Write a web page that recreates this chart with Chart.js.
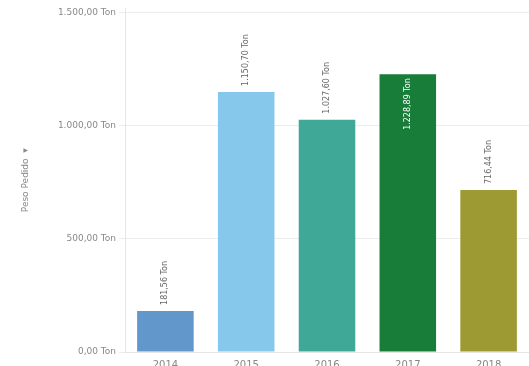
<!DOCTYPE html>
<html>
<head>
<meta charset="utf-8">
<script src="https://cdn.jsdelivr.net/npm/chart.js@4.4.0/dist/chart.umd.min.js"></script>
<style>
  html, body { margin: 0; padding: 0; background: #fff; }
  #wrap { width: 529px; height: 366px; }
</style>
</head>
<body>
<div id="wrap"><canvas id="chart"></canvas></div>
<script>
// data
const years = ['2014', '2015', '2016', '2017', '2018'];
const pesoTon = [181.56, 1150.70, 1027.60, 1228.89, 716.44];
const barColors = ['#6197cb', '#86c8ec', '#40a897', '#177d39', '#9d9a33'];
const yTicks = [0, 500, 1000, 1500];

function fmtTon(v) {
    let parts = v.toFixed(2).split('.');
    let int = parts[0].replace(/\B(?=(\d{3})+(?!\d))/g, '.');
    return int + ',' + parts[1] + ' Ton';
}

// vertical value labels, inside the bar for the tallest one
const barLabels = {
    id: 'barLabels',
    afterDatasetsDraw(chart) {
        let ctx = chart.ctx;
        let meta = chart.getDatasetMeta(0);
        let maxVal = Math.max(...pesoTon);
        ctx.save();
        ctx.font = '8px "DejaVu Sans"';
        ctx.textBaseline = 'middle';
        meta.data.forEach((bar, i) => {
            let txt = fmtTon(pesoTon[i]);
            ctx.save();
            ctx.translate(bar.x, bar.y);
            ctx.rotate(-Math.PI / 2);
            if (pesoTon[i] === maxVal) {
                ctx.fillStyle = '#ffffff';
                ctx.textAlign = 'right';
                ctx.fillText(txt, -4, 0);
            } else {
                ctx.fillStyle = '#666666';
                ctx.textAlign = 'left';
                ctx.fillText(txt, 6, 0);
            }
            ctx.restore();
        });
        ctx.restore();
    }
};

const data = {
    labels: years,
    datasets: [{
        label: 'Peso Pedido',
        data: pesoTon,
        backgroundColor: barColors,
        borderWidth: 0,
        barPercentage: 0.7,
        categoryPercentage: 1.0
    }]
};

const config = {
    type: 'bar',
    data: data,
    plugins: [barLabels],
    options: {
        responsive: true,
        maintainAspectRatio: false,
        animation: false,
        layout: { padding: { top: 7, right: 0, left: 20, bottom: -12 } },
        plugins: {
            legend: { display: false },
            tooltip: { enabled: false }
        },
        scales: {
            x: {
                grid: { display: false, drawTicks: false },
                border: { color: '#e6e6e6' },
                ticks: { color: '#888', font: { size: 10, family: 'DejaVu Sans' }, padding: 7, maxRotation: 0 }
            },
            y: {
                min: 0,
                max: 1520,
                afterBuildTicks: (axis) => { axis.ticks = yTicks.map(v => ({ value: v })); },
                afterFit: (axis) => { axis.width = 105; },
                grid: { color: '#ececec', tickLength: 6, tickColor: '#ececec' },
                border: { color: '#e6e6e6' },
                ticks: {
                    color: '#888',
                    font: { size: 9, family: 'DejaVu Sans' },
                    padding: 3,
                    callback: (v) => fmtTon(v)
                },
                title: {
                    display: true,
                    text: 'Peso Pedido  \u25BE',
                    color: '#888',
                    font: { size: 9, family: 'DejaVu Sans' },
                    padding: { top: 0, bottom: 0 }
                }
            }
        }
    }
};

let ctx = document.getElementById('chart').getContext('2d');
new Chart(ctx, config);
</script>
</body>
</html>
